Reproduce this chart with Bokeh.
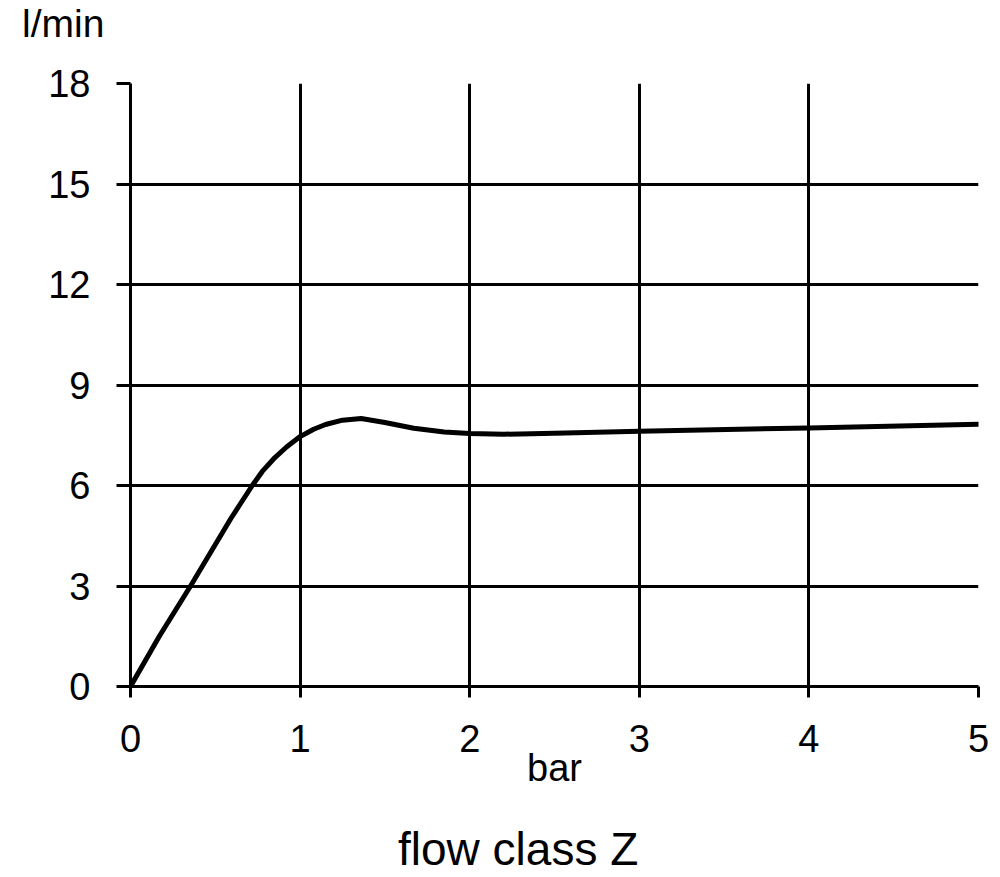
from bokeh.plotting import figure
from bokeh.models import Range1d, FixedTicker, Div
from bokeh.layouts import column
from bokeh.embed import file_html
from bokeh.resources import INLINE

# data
pressure_bar = [0, 0.17, 0.354, 0.59, 0.65, 0.718, 0.777, 0.845, 0.92, 1.0, 1.08, 1.15, 1.25, 1.36, 1.5, 1.67, 1.85, 2.0, 2.2, 2.5, 3.0, 4.0, 5.0]
flow_lpm = [0, 1.5, 3.0, 5.0, 5.47, 6.0, 6.42, 6.8, 7.15, 7.46, 7.68, 7.82, 7.95, 8.0, 7.88, 7.71, 7.6, 7.55, 7.53, 7.56, 7.62, 7.72, 7.83]

x_ticks = [0, 1, 2, 3, 4, 5]
y_ticks = [0, 3, 6, 9, 12, 15, 18]
x_grid = [1, 2, 3, 4]
y_grid = [3, 6, 9, 12, 15]

x_title = "bar"
y_title = "l/min"
caption = "flow class Z"

FONT = "Liberation Sans"

top = Div(text=y_title, width=992, height=45,
          styles={"font-family": FONT, "font-size": "39px", "line-height": "39px",
                  "color": "black", "padding-left": "22px", "padding-top": "4px",
                  "margin": "0", "box-sizing": "border-box", "white-space": "nowrap"})

p = figure(width=992, height=751, output_backend="svg", toolbar_location=None,
           x_range=Range1d(0, 5), y_range=Range1d(0, 18),
           min_border_left=130, min_border_right=14, min_border_top=38, min_border_bottom=110)
p.outline_line_color = None
p.background_fill_color = "white"
p.border_fill_color = "white"

for ax in (p.xaxis[0], p.yaxis[0]):
    ax.axis_line_color = "black"
    ax.axis_line_width = 3
    ax.major_tick_line_color = "black"
    ax.major_tick_line_width = 3
    ax.major_tick_in = 0
    ax.minor_tick_line_color = None
    ax.major_label_text_font = FONT
    ax.major_label_text_font_size = "38px"
    ax.major_label_text_color = "black"

p.xaxis.ticker = FixedTicker(ticks=x_ticks)
p.yaxis.ticker = FixedTicker(ticks=y_ticks)
p.xaxis.major_tick_out = 11
p.yaxis.major_tick_out = 14
p.xaxis.major_label_standoff = 27
p.yaxis.major_label_standoff = 26

p.xaxis.axis_label = x_title
p.xaxis.axis_label_text_font = FONT
p.xaxis.axis_label_text_font_size = "38px"
p.xaxis.axis_label_text_font_style = "normal"
p.xaxis.axis_label_text_color = "black"
p.xaxis.axis_label_standoff = -8

p.xgrid.ticker = FixedTicker(ticks=x_grid)
p.ygrid.ticker = FixedTicker(ticks=y_grid)
for g in (p.xgrid[0], p.ygrid[0]):
    g.grid_line_color = "black"
    g.grid_line_width = 3

p.line(pressure_bar, flow_lpm, line_color="black", line_width=5,
       line_join="round", line_cap="round")

bottom = Div(text=caption, width=992, height=74,
             styles={"font-family": FONT, "font-size": "46px", "line-height": "46px",
                     "color": "black", "padding-left": "398px", "padding-top": "30px",
                     "margin": "0", "box-sizing": "border-box", "white-space": "nowrap"})

layout = column(top, p, bottom, spacing=0)

open("out.html", "w").write(file_html(layout, INLINE))
